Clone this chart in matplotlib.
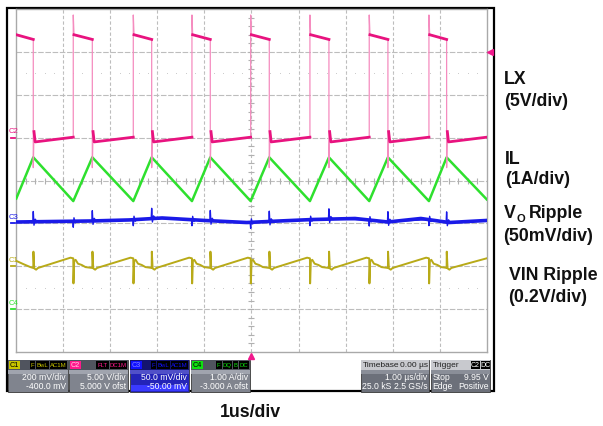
import numpy as np
import matplotlib.pyplot as plt
from matplotlib.patches import Rectangle

plt.rcParams['font.family'] = ['Liberation Sans', 'DejaVu Sans']

W, H = 603, 426

# channel settings from the status bar (scale per div, offset)
lx_vdiv, lx_ofst = 5.0, 5.0          # V
il_adiv, il_ofst = 1.0, -3.0         # A
vo_mvdiv, vo_ofst = 50.0, -50.0      # mV
vin_mvdiv, vin_ofst = 200.0, -400.0  # mV
trig_level = 9.95                    # V on C2

# LX switching edges (us)
lx_fall = [0.361, 1.616, 2.878, 4.124, 5.378, 6.646, 7.900, 9.148]
lx_rise = [1.211, 2.487, 3.734, 4.982, 6.242, 7.503, 8.772]

# LX levels (V)
lx_high = [12.0, 11.45]       # after rise, before fall
lx_low = [-0.5, 0.05]         # after fall, before rise
lx_rise_spike = 14.3
lx_fall_ring = [-3.5, 0.7]

# inductor current (A)
il_t = [0.0, 0.361, 1.211, 1.616, 2.487, 2.878, 3.734, 4.124, 4.982,
        5.378, 6.242, 6.646, 7.503, 7.900, 8.772, 9.148, 10.0]
il_a = [2.58, 3.54, 2.52, 3.54, 2.52, 3.54, 2.52, 3.54, 2.52,
        3.54, 2.52, 3.54, 2.52, 3.54, 2.52, 3.54, 2.56]

# output ripple (mV): slow baseline + ringing at the edges
vo_base_t = [0, 0.8, 1.6, 2.4, 3.1, 4.0, 4.9, 5.6, 6.3, 7.2, 7.9, 8.6, 9.2, 10.0]
vo_base_mv = [1.6, 2.2, 2.8, 4.0, 6.3, 3.4, 1.0, 2.8, 4.5, 5.7, 1.6, 5.7, 1.0, 3.4]
vo_fall_ring = [(-0.01, 0), (0.0, 12), (0.015, -4), (0.04, 3), (0.08, 0)]
vo_rise_ring = [(-0.01, 0), (0.0, -7), (0.015, 4), (0.04, -2), (0.08, 0)]

# input ripple (mV)
vin_start = [(0.0, 25), (0.15, 10), (0.3, -4)]
vin_fall_ring = [(0.0, -8), (0.003, 68), (0.02, -10), (0.06, -16), (0.1, -8)]
vin_rise_ring = [(-0.06, 40), (0.0, 37), (0.004, -80), (0.02, 25), (0.05, 30),
                 (0.1, 12), (0.18, 6), (0.26, -4), (0.33, -6)]
vin_end = 37

lx_color, lx_edge = '#e8137f', '#f58cbf'
il_color = '#2ee02e'
vo_color = '#1a1ae8'
vin_color = '#b8aa18'
grid_color = '#bdbdbd'

# ---- build traces ----
lx_t, lx_v = [0.0], [lx_high[0]]
flat_t, flat_v = [0.0], [lx_high[0]]
for k, tf in enumerate(lx_fall):
    lx_t += [tf, tf, tf + 0.015, tf + 0.04]
    lx_v += [lx_high[1], lx_fall_ring[0], lx_fall_ring[1], lx_low[0]]
    flat_t += [tf, np.nan, tf + 0.015, tf + 0.04]
    flat_v += [lx_high[1], np.nan, lx_fall_ring[1], lx_low[0]]
    if k < len(lx_rise):
        tr = lx_rise[k]
        lx_t += [tr, tr, tr + 0.015]
        lx_v += [lx_low[1], lx_rise_spike, lx_high[0]]
        flat_t += [tr, np.nan, tr + 0.015]
        flat_v += [lx_low[1], np.nan, lx_high[0]]
    else:
        lx_t.append(10.0)
        lx_v.append(lx_low[1])
        flat_t.append(10.0)
        flat_v.append(lx_low[1])

vo_t, vo_v = [0.0], [vo_base_mv[0]]
edges = sorted([(t, vo_fall_ring) for t in lx_fall] + [(t, vo_rise_ring) for t in lx_rise])
for te, ring in edges:
    for dt, dv in ring:
        vo_t.append(te + dt)
        vo_v.append(np.interp(te + dt, vo_base_t, vo_base_mv) + dv)
vo_t.append(10.0)
vo_v.append(vo_base_mv[-1])

vin_t = [p[0] for p in vin_start]
vin_v = [p[1] for p in vin_start]
for k, tf in enumerate(lx_fall):
    for dt, dv in vin_fall_ring:
        vin_t.append(tf + dt)
        vin_v.append(dv)
    if k < len(lx_rise):
        for dt, dv in vin_rise_ring:
            vin_t.append(lx_rise[k] + dt)
            vin_v.append(dv)
vin_t.append(10.0)
vin_v.append(vin_end)


def to_div(vals, scale, ofst):
    return (np.asarray(vals, dtype=float) + ofst) / scale


fig = plt.figure(figsize=(W / 100, H / 100), dpi=100)

# overlay in pixel units for the scope frame, status bar and labels
ov = fig.add_axes([0, 0, 1, 1], zorder=0)
ov.set_xlim(0, W)
ov.set_ylim(H, 0)
ov.axis('off')
ov.add_patch(Rectangle((6.5, 8), 487.5, 382.5, fill=False, ec='black', lw=1.6))

# scope graticule
gl, gr, gt, gb = 16.3, 486.7, 9, 352
ax = fig.add_axes([gl / W, (H - gb) / H, (gr - gl) / W, (gb - gt) / H], zorder=1)
ax.set_facecolor('white')
ax.set_xlim(0, 10)
ax.set_ylim(-4, 4)
ax.set_xticks([])
ax.set_yticks([])
for s in ax.spines.values():
    s.set_color('#a9a9a9')
    s.set_linewidth(1.0)
for x in range(1, 10):
    ax.axvline(x, color=grid_color, lw=0.8, ls=(0, (3, 2)), zorder=1)
for y in range(-3, 4):
    ax.axhline(y, color=grid_color, lw=0.8, ls=(0, (5, 1.5)), zorder=1)
dots = np.arange(0.2, 10, 0.2)
for y in (2.5, -2.5):
    ax.plot(dots, np.full(dots.size, y), ls='none', marker='s', ms=0.6, mew=0,
            color='#c8c8c8', zorder=1)
ax.plot(np.full(39, 5.0), np.arange(-3.8, 4, 0.2), ls='none', marker='_', ms=4,
        mew=0.8, color='#b0b0b0', zorder=1)
ax.plot(np.arange(0.2, 10, 0.2), np.zeros(49), ls='none', marker='|', ms=4,
        mew=0.8, color='#b0b0b0', zorder=1)

# traces
ax.plot(il_t, to_div(il_a, il_adiv, il_ofst), color=il_color, lw=1.8, zorder=3)
ax.plot(vin_t, to_div(vin_v, vin_mvdiv, vin_ofst), color=vin_color, lw=1.4, zorder=3)
ax.plot(vo_base_t, to_div(vo_base_mv, vo_mvdiv, vo_ofst), color=vo_color, lw=2.6,
        zorder=3)
ax.plot(vo_t, to_div(vo_v, vo_mvdiv, vo_ofst), color=vo_color, lw=1.0, zorder=3)
ax.plot(lx_t, to_div(lx_v, lx_vdiv, lx_ofst), color=lx_edge, lw=0.9, zorder=4)
ax.plot(flat_t, to_div(flat_v, lx_vdiv, lx_ofst), color=lx_color, lw=2.0, zorder=4)

# channel ground markers
for name, col, lvl in [('C2', lx_color, to_div(0, lx_vdiv, lx_ofst)),
                       ('C3', vo_color, to_div(0, vo_mvdiv, vo_ofst)),
                       ('C1', vin_color, to_div(0, vin_mvdiv, vin_ofst)),
                       ('C4', il_color, to_div(0, il_adiv, il_ofst))]:
    ax.plot([-0.115, -0.01], [lvl, lvl], color=col, lw=1.3, clip_on=False)
    ax.text(-0.165, lvl + 0.05, name, color=col, fontsize=5.5, ha='left', va='bottom',
            clip_on=False)

# trigger markers
ax.plot([5], [-4.085], marker='^', ms=5, color='#f0198c', clip_on=False, zorder=5)
ax.plot([10.075], [to_div(trig_level, lx_vdiv, lx_ofst)], marker='<', ms=4.5,
        color='#f0198c', clip_on=False, zorder=5)

# ---- status bar ----
sfont = ['Liberation Sans Narrow', 'Liberation Sans', 'DejaVu Sans']
chan_boxes = [
    ('C1', 8, 68, '#c8c400', 'black', ['F', 'BwL', 'AC1M'], ['200 mV/div', '-400.0 mV']),
    ('C2', 69, 128, '#ff1a8c', '#ffd0e6', ['FLT', 'DC1M'], ['5.00 V/div', '5.000 V ofst']),
    ('C3', 130, 189, '#1010ff', '#8080ff', ['F', 'BwL', 'AC1M'], ['50.0 mV/div', '-50.00 mV']),
    ('C4', 191, 250, '#10e010', 'black', ['F', 'DQ', 'B', 'DC'], ['1.00 A/div', '-3.000 A ofst']),
]
y0, y1 = 360, 392
for name, xa, xb, col, tcol, tags, rows in chan_boxes:
    sel = name == 'C3'
    ov.add_patch(Rectangle((xa, y0), xb - xa, y1 - y0,
                           fc='#2424b8' if sel else '#80848e', ec='#3a3a3a', lw=0.6))
    ov.add_patch(Rectangle((xa, y0), xb - xa, 10, fc='#141470' if sel else '#50545e', lw=0))
    ov.add_patch(Rectangle((xa, y0 + 10), xb - xa, 4,
                           fc='#5050c8' if sel else '#a0a4ae', lw=0))
    if sel:
        ov.add_patch(Rectangle((xa + 1, y1 - 7), xb - xa - 2, 6, fc='#3a3aff', lw=0))
    ov.add_patch(Rectangle((xa + 1, y0 + 1), 11, 8, fc=col, lw=0))
    ov.text(xa + 6.5, y0 + 5.3, name, fontsize=5.2, color=tcol, ha='center',
            va='center', family=sfont)
    xr = xb - 1.5
    for tag in reversed(tags):
        w = 3.6 * len(tag) + 2
        ov.add_patch(Rectangle((xr - w, y0 + 1), w, 8, fc='black', lw=0))
        ov.text(xr - w / 2, y0 + 5.3, tag, fontsize=4.3, color=col, ha='center',
                va='center', family=sfont)
        xr -= w + 1
    ov.text(xb - 2, y0 + 17, rows[0], fontsize=6.2, color='white', ha='right',
            va='center', family=sfont)
    ov.text(xb - 2, y0 + 26.5, rows[1], fontsize=6.2, color='white', ha='right',
            va='center', family=sfont)

info_boxes = [
    (361, 429, 'Timebase', '0.00 µs', [('', '1.00 µs/div'), ('25.0 kS', '2.5 GS/s')]),
    (431, 490, 'Trigger', None, [('Stop', '9.95 V'), ('Edge', 'Positive')]),
]
for xa, xb, head, head_r, rows in info_boxes:
    ov.add_patch(Rectangle((xa, y0), xb - xa, y1 - y0, fc='#6c707a', ec='#3a3a3a', lw=0.6))
    ov.add_patch(Rectangle((xa, y0), xb - xa, 10, fc='#c8c9ce', lw=0))
    ov.add_patch(Rectangle((xa, y0 + 10), xb - xa, 4, fc='#8a8e98', lw=0))
    ov.text(xa + 1.5, y0 + 5.3, head, fontsize=6, color='#202020', va='center', family=sfont)
    if head_r:
        ov.text(xb - 1.5, y0 + 5.3, head_r, fontsize=6, color='#202020', ha='right',
                va='center', family=sfont)
    else:
        for lab, xs in [('C2', xb - 19), ('DC', xb - 9.5)]:
            ov.add_patch(Rectangle((xs, y0 + 1), 9, 8, fc='black', lw=0))
            ov.text(xs + 4.5, y0 + 5.3, lab, fontsize=5, color='white', ha='center',
                    va='center', family=sfont)
    for i, (left, right) in enumerate(rows):
        yy = y0 + 17 + 9.5 * i
        if left:
            ov.text(xa + 1.5, yy, left, fontsize=6.2, color='white', va='center', family=sfont)
        ov.text(xb - 1.5, yy, right, fontsize=6.2, color='white', ha='right',
                va='center', family=sfont)

# ---- annotations ----
lab = dict(fontsize=12.8, fontweight='bold', color='#111111', va='baseline')
ov.text(504, 83.5, 'LX', **lab)
ov.text(504, 106.3, '(5V/div)', **lab)
ov.text(505, 163.5, 'IL', **lab)
ov.text(505, 184.5, '(1A/div)', **lab)
ov.text(503.5, 218.5, 'V', **lab)
ov.text(516.5, 221.5, 'O', fontsize=8, fontweight='bold', color='#111111', va='baseline')
ov.text(529, 218.5, 'Ripple', **lab)
ov.text(503.5, 241.3, '(50mV/div)', **lab)
ov.text(509, 280.5, 'VIN Ripple', **lab)
ov.text(508, 302.3, '(0.2V/div)', **lab)
ov.text(250, 417, '1us/div', ha='center', fontsize=12.8, fontweight='bold',
        color='#111111', va='baseline')

fig.savefig('out.png', dpi=100)
